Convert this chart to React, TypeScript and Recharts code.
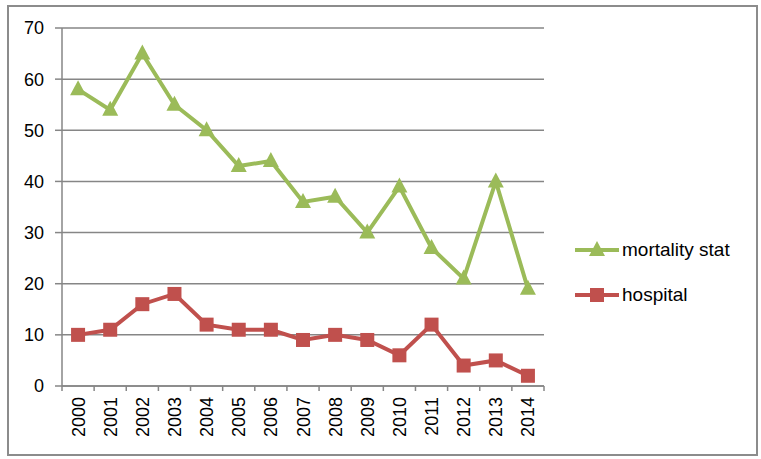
import React from "react";
import { LineChart, Line, XAxis, YAxis, CartesianGrid } from "recharts";

const years = ["2000", "2001", "2002", "2003", "2004", "2005", "2006", "2007", "2008", "2009", "2010", "2011", "2012", "2013", "2014"];
const hospital = [10, 11, 16, 18, 12, 11, 11, 9, 10, 9, 6, 12, 4, 5, 2];
const mortality = [58, 54, 65, 55, 50, 43, 44, 36, 37, 30, 39, 27, 21, 40, 19];
const yTicks = [0, 10, 20, 30, 40, 50, 60, 70];

const data = years.map((y, i) => ({ year: y, hospital: hospital[i], mortality: mortality[i] }));

const RED = "#C0504D";
const GREEN = "#9BBB59";
const GRID = "#868686";
const FONT = "'Liberation Sans', Arial, sans-serif";

const W = 761;
const H = 459;
const Y_W = 56;
const M = { top: 28, right: 217, left: 6, bottom: 13 };
const PLOT_W = W - M.left - Y_W - M.right;
const BAND = PLOT_W / years.length;

const Square = (props: any) => {
    const { cx, cy } = props;
    if (cx == null || cy == null) return null;
    return <rect x={cx - 7} y={cy - 7} width={14} height={14} fill={RED} />;
};

const Triangle = (props: any) => {
    const { cx, cy } = props;
    if (cx == null || cy == null) return null;
    return <polygon points={`${cx},${cy - 9} ${cx + 8},${cy + 6} ${cx - 8},${cy + 6}`} fill={GREEN} />;
};

const XTick = (props: any) => {
    const { x, y, payload, index } = props;
    const left = x - BAND / 2;
    return (
        <g>
            <line x1={left} y1={y - 6} x2={left} y2={y - 1} stroke={GRID} strokeWidth={1.5} />
            {index === years.length - 1 && (
                <line x1={x + BAND / 2} y1={y - 6} x2={x + BAND / 2} y2={y - 1} stroke={GRID} strokeWidth={1.5} />
            )}
            <text x={x} y={y} transform={`rotate(-90, ${x}, ${y})`} dx={-5} dy={6.5} textAnchor="end" fontSize={18} fill="#000" fontFamily={FONT}>
                {payload.value}
            </text>
        </g>
    );
};

const LegendBox = () => (
    <svg width={185} height={80} style={{ position: "absolute", left: 573, top: 234 }}>
        <line x1={2} y1={61} x2={46} y2={61} stroke={RED} strokeWidth={4} />
        <rect x={17} y={54} width={14} height={14} fill={RED} />
        <text x={49} y={67} fontSize={19} fontFamily={FONT} fill="#000">hospital</text>
        <line x1={2} y1={16} x2={46} y2={16} stroke={GREEN} strokeWidth={4} />
        <polygon points="24,7 32,22 16,22" fill={GREEN} />
        <text x={49} y={22} fontSize={19} fontFamily={FONT} fill="#000">mortality stat</text>
    </svg>
);

export default function App() {
    return (
        <div style={{ position: "absolute", left: 0, top: 0, width: W, height: H, background: "#fff" }}>
            <div style={{ position: "absolute", left: 7, top: 5, width: 747, height: 447, border: "2px solid #8c8c8c" }} />
            <LineChart width={W} height={H} data={data} margin={M}>
                <CartesianGrid vertical={false} stroke={GRID} strokeWidth={1.5} />
                <XAxis
                    dataKey="year"
                    height={60}
                    interval={0}
                    padding={{ left: BAND / 2, right: BAND / 2 }}
                    axisLine={{ stroke: GRID, strokeWidth: 1.5 }}
                    tickLine={false}
                    tickSize={6}
                    tick={<XTick />}
                    tickMargin={0}
                />
                <YAxis
                    width={Y_W}
                    domain={[0, 70]}
                    ticks={yTicks}
                    interval={0}
                    axisLine={{ stroke: GRID, strokeWidth: 1.5 }}
                    tickLine={{ stroke: GRID, strokeWidth: 1.5 }}
                    tickSize={7}
                    tickMargin={11}
                    tick={{ fontSize: 18, fill: "#000", fontFamily: FONT }}
                />
                <Line dataKey="hospital" stroke={RED} strokeWidth={4} dot={<Square />} isAnimationActive={false} />
                <Line dataKey="mortality" stroke={GREEN} strokeWidth={4} dot={<Triangle />} isAnimationActive={false} />
            </LineChart>
            <LegendBox />
        </div>
    );
}
